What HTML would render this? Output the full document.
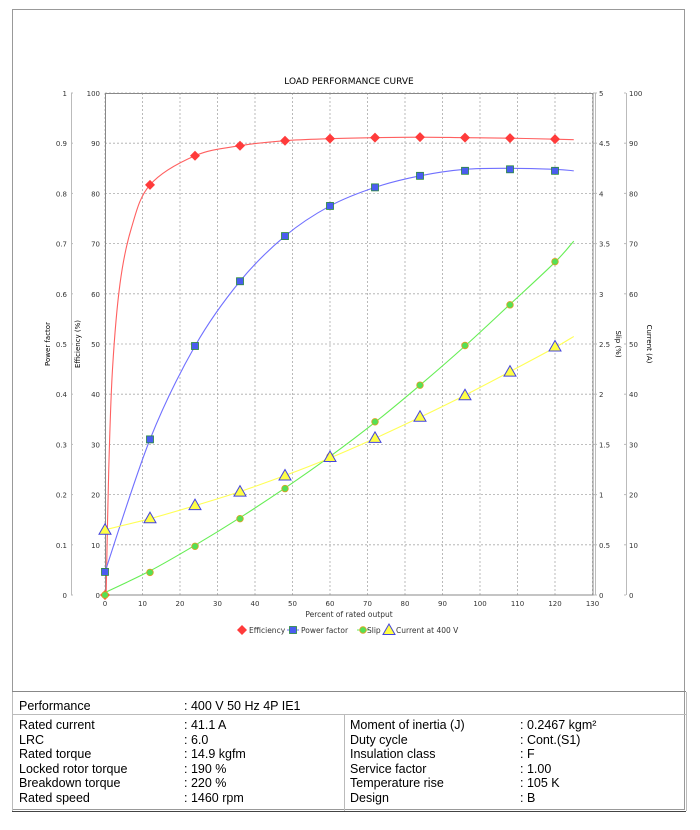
<!DOCTYPE html>
<html><head><meta charset="utf-8"><style>
body{margin:0;background:#fff;width:700px;height:830px;overflow:hidden;font-family:"Liberation Sans",sans-serif}
svg text{font-family:"DejaVu Sans",sans-serif}
.tb{position:absolute;font-family:"Liberation Sans",sans-serif;font-size:12.5px;color:#000;line-height:14.5px}
</style></head><body>
<svg id="s" width="700" height="830" style="position:absolute;left:0;top:0"></svg>
<div class="tb" style="left:19px;top:699px">Performance</div>
<div class="tb" style="left:184px;top:699px">: 400 V 50 Hz 4P IE1</div>
<div class="tb" style="left:19px;top:718px">Rated current<br>LRC<br>Rated torque<br>Locked rotor torque<br>Breakdown torque<br>Rated speed</div>
<div class="tb" style="left:184px;top:718px">: 41.1 A<br>: 6.0<br>: 14.9 kgfm<br>: 190 %<br>: 220 %<br>: 1460 rpm</div>
<div class="tb" style="left:350px;top:718px">Moment of inertia (J)<br>Duty cycle<br>Insulation class<br>Service factor<br>Temperature rise<br>Design</div>
<div class="tb" style="left:520px;top:718px">: 0.2467 kgm²<br>: Cont.(S1)<br>: F<br>: 1.00<br>: 105 K<br>: B</div>
<script>
const s=document.getElementById('s');let h='';
const X=x=>105+3.75*x, Y=v=>595-5.02*v;
h+='<rect x="12.5" y="9.5" width="672" height="800" fill="none" stroke="#999"/>';
h+='<line x1="12" y1="691.5" x2="686" y2="691.5" stroke="#888"/><line x1="12" y1="714.5" x2="686" y2="714.5" stroke="#bbb"/><line x1="12" y1="811.5" x2="686" y2="811.5" stroke="#444"/><line x1="344.5" y1="715" x2="344.5" y2="811" stroke="#bbb"/><line x1="12.5" y1="692" x2="12.5" y2="811" stroke="#bbb"/><line x1="686.5" y1="692" x2="686.5" y2="811" stroke="#bbb"/>';
h+='<text x="349" y="84" font-size="9" text-anchor="middle">LOAD PERFORMANCE CURVE</text>';
for(let i=0;i<=13;i++){const x=X(i*10);h+=`<line x1="${x}" y1="93" x2="${x}" y2="595" stroke="#aaa" stroke-dasharray="2,2" stroke-width="0.8"/>`;h+=`<text x="${x}" y="606" font-size="7" text-anchor="middle" fill="#333">${i*10}</text>`;}
for(let i=0;i<=10;i++){const y=Y(i*10);h+=`<line x1="105" y1="${y}" x2="593" y2="${y}" stroke="#aaa" stroke-dasharray="2,2" stroke-width="0.8"/>`;
h+=`<text x="100" y="${y+3}" font-size="7" text-anchor="end" fill="#333">${i*10}</text>`;
h+=`<text x="67" y="${y+3}" font-size="7" text-anchor="end" fill="#333">${i==0?0:i==10?1:(i/10).toFixed(1)}</text>`;
h+=`<text x="599" y="${y+3}" font-size="7" fill="#333">${i==0?0:i%2==0?i/2:(i/2).toFixed(1)}</text>`;
h+=`<text x="629" y="${y+3}" font-size="7" fill="#333">${i*10}</text>`;
h+=`<line x1="71" y1="${y}" x2="73" y2="${y}" stroke="#bbb"/><line x1="624" y1="${y}" x2="626" y2="${y}" stroke="#bbb"/><line x1="593" y1="${y}" x2="597" y2="${y}" stroke="#bbb"/>`;}
h+='<rect x="105.5" y="93.5" width="487.5" height="501.5" fill="none" stroke="#888"/>';
h+='<line x1="71.5" y1="93" x2="71.5" y2="595" stroke="#bbb"/><line x1="626.5" y1="93" x2="626.5" y2="595" stroke="#bbb"/><line x1="595.5" y1="93" x2="595.5" y2="595" stroke="#bbb"/>';
h+='<text transform="translate(50,344) rotate(-90)" font-size="7" text-anchor="middle">Power factor</text>';
h+='<text transform="translate(80,344) rotate(-90)" font-size="7" text-anchor="middle">Efficiency (%)</text>';
h+='<text transform="translate(616,344) rotate(90)" font-size="7" text-anchor="middle">Slip (%)</text>';
h+='<text transform="translate(647,344) rotate(90)" font-size="7" text-anchor="middle">Current (A)</text>';
h+='<text x="349" y="617" font-size="7.5" text-anchor="middle" fill="#333">Percent of rated output</text>';
function curve(pts,col){let d='M'+X(pts[0][0])+','+Y(pts[0][1]);for(let i=0;i<pts.length-1;i++){const p0=pts[Math.max(0,i-1)],p1=pts[i],p2=pts[i+1],p3=pts[Math.min(pts.length-1,i+2)];
const c1=[p1[0]+(p2[0]-p0[0])/6,p1[1]+(p2[1]-p0[1])/6],c2=[p2[0]-(p3[0]-p1[0])/6,p2[1]-(p3[1]-p1[1])/6];
d+=` C${X(c1[0])},${Y(c1[1])} ${X(c2[0])},${Y(c2[1])} ${X(p2[0])},${Y(p2[1])}`;}
h+=`<path d="${d}" fill="none" stroke="${col}" stroke-width="1.1"/>`;}
const ef=[[0,0],[12,81.7],[24,87.5],[36,89.5],[48,90.5],[60,90.9],[72,91.1],[84,91.2],[96,91.1],[108,91.0],[120,90.8]];
const pf=[[0,4.6],[12,31],[24,49.6],[36,62.5],[48,71.5],[60,77.5],[72,81.2],[84,83.5],[96,84.5],[108,84.8],[120,84.5]];
const sl=[[0,0],[12,4.5],[24,9.7],[36,15.2],[48,21.2],[60,27.6],[72,34.5],[84,41.8],[96,49.7],[108,57.8],[120,66.4]];
const cu=[[0,13],[12,15.3],[24,17.9],[36,20.6],[48,23.8],[60,27.5],[72,31.3],[84,35.5],[96,39.8],[108,44.5],[120,49.5]];
curve([[0.3,0],[1,25],[2,45],[4,62],[7,73],[12,81.7],[24,87.5],[36,89.5],[48,90.5],[60,90.9],[72,91.1],[84,91.2],[96,91.1],[108,91.0],[120,90.8],[125,90.7]],'#ff6060');
curve([[0,4.6],[12,31],[24,49.6],[36,62.5],[48,71.5],[60,77.5],[72,81.2],[84,83.5],[96,84.8],[108,85],[120,84.8],[125,84.5]],'#7070ff');
curve([[0,0.5],[12,4.8],[24,9.9],[36,15.4],[48,21.3],[60,27.6],[72,34.4],[84,41.8],[96,49.6],[108,57.9],[120,66.3],[125,70.5]],'#66ee55');
curve([[0,13],[12,15.2],[24,17.8],[36,20.6],[48,23.8],[60,27.3],[72,31.2],[84,35.4],[96,39.8],[108,44.5],[120,49.3],[125,51.5]],'#ffff55');
function dia(x,y){return `<path d="M${x},${y-5}L${x+5},${y}L${x},${y+5}L${x-5},${y}Z" fill="#ff3b3b"/>`}
function sq(x,y){return `<rect x="${x-3.5}" y="${y-3.5}" width="7" height="7" fill="#4a5cf0" stroke="#2a8a3a" stroke-width="0.8"/>`}
function ci(x,y){return `<circle cx="${x}" cy="${y}" r="3.3" fill="#55e055" stroke="#e0a020" stroke-width="0.8"/>`}
function tr(x,y){return `<path d="M${x},${y-6}L${x+6},${y+4.5}L${x-6},${y+4.5}Z" fill="#ffff44" stroke="#4444dd" stroke-width="1"/>`}
ef.forEach(p=>h+=dia(X(p[0]),Y(p[1])));pf.forEach(p=>h+=sq(X(p[0]),Y(p[1])));sl.forEach(p=>h+=ci(X(p[0]),Y(p[1])));cu.forEach(p=>h+=tr(X(p[0]),Y(p[1])));
h+=dia(242,630)+`<text x="249" y="633" font-size="7.5" fill="#333">Efficiency</text>`;
h+=`<line x1="287" y1="630" x2="299" y2="630" stroke="#7070ff"/>`+sq(293,630)+`<text x="301" y="633" font-size="7.5" fill="#333">Power factor</text>`;
h+=`<line x1="357" y1="630" x2="369" y2="630" stroke="#66ee55"/>`+ci(363,630)+`<text x="367" y="633" font-size="7.5" fill="#333">Slip</text>`;
h+=tr(389,630)+`<text x="396" y="633" font-size="7.5" fill="#333">Current at 400 V</text>`;
s.innerHTML=h;
</script>
</body></html>
